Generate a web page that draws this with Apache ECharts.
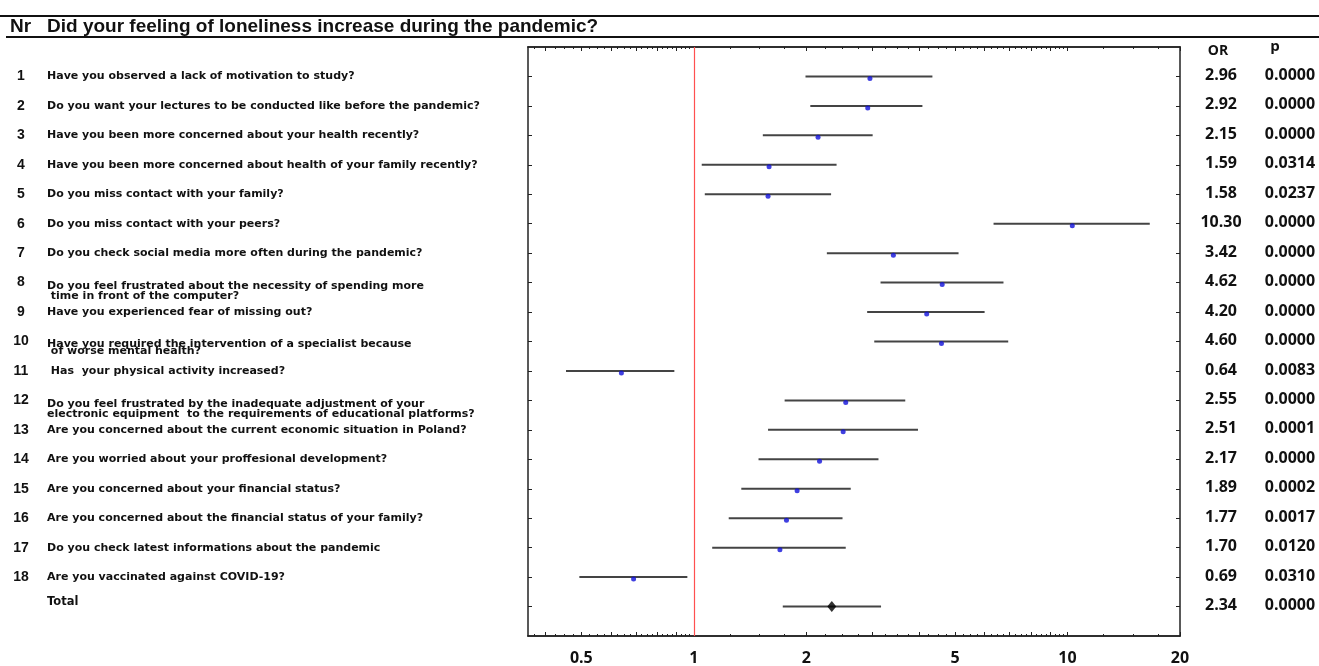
<!DOCTYPE html>
<html><head><meta charset="utf-8">
<script src="https://cdn.jsdelivr.net/npm/echarts@6/dist/echarts.min.js"></script>
<style>html,body{margin:0;padding:0;background:#fff}#c{width:1319px;height:666px}</style>
</head><body><div id="c"></div>
<script>
const titleNr = 'Nr';
const titleText = 'Did your feeling of loneliness increase during the pandemic?';
const rowNumbers = ['1','2','3','4','5','6','7','8','9','10','11','12','13','14','15','16','17','18',''];
const questions = [
  'Have you observed a lack of motivation to study?',
  'Do you want your lectures to be conducted like before the pandemic?',
  'Have you been more concerned about your health recently?',
  'Have you been more concerned about health of your family recently?',
  'Do you miss contact with your family?',
  'Do you miss contact with your peers?',
  'Do you check social media more often during the pandemic?',
  'Do you feel frustrated about the necessity of spending more\n time in front of the computer?',
  'Have you experienced fear of missing out?',
  'Have you required the intervention of a specialist because\n of worse mental health?',
  ' Has  your physical activity increased?',
  'Do you feel frustrated by the inadequate adjustment of your\nelectronic equipment  to the requirements of educational platforms?',
  'Are you concerned about the current economic situation in Poland?',
  'Are you worried about your proffesional development?',
  'Are you concerned about your financial status?',
  'Are you concerned about the financial status of your family?',
  'Do you check latest informations about the pandemic',
  'Are you vaccinated against COVID-19?',
  'Total'
];
const orValues = [2.96, 2.92, 2.15, 1.59, 1.58, 10.30, 3.42, 4.62, 4.20, 4.60, 0.64, 2.55, 2.51, 2.17, 1.89, 1.77, 1.70, 0.69, 2.34];
const ciLower  = [1.99, 2.05, 1.53, 1.05, 1.07, 6.34, 2.27, 3.16, 2.91, 3.04, 0.455, 1.75, 1.58, 1.49, 1.34, 1.24, 1.12, 0.494, 1.73];
const ciUpper  = [4.35, 4.09, 3.01, 2.41, 2.33, 16.6, 5.11, 6.74, 6.00, 6.94, 0.887, 3.68, 3.98, 3.12, 2.63, 2.50, 2.55, 0.961, 3.17];
const pValues  = ['0.0000','0.0000','0.0000','0.0314','0.0237','0.0000','0.0000','0.0000','0.0000','0.0000','0.0083','0.0000','0.0001','0.0000','0.0002','0.0017','0.0120','0.0310','0.0000'];
const xTickLabels = [0.5, 1, 2, 5, 10, 20];
const xMin = 0.36, xMax = 20;

const L = Math.log10;
const nRows = orValues.length;
const rowPos = orValues.map((_, i) => i + 1);

// tick positions on the log scale
const majorTicks = [], minorTicks = [];
for (let k = 4; k <= 9; k++) majorTicks.push(L(k / 10));
for (let k = 1; k <= 10; k++) majorTicks.push(L(k));
majorTicks.push(L(20));
for (let v = 0.375; v < 1; v += 0.025) minorTicks.push(L(v));
for (let v = 1; v < 10; v += 0.25) minorTicks.push(L(v));
for (let v = 10; v <= 20.001; v += 2.5) minorTicks.push(L(v));

const xBase = { type: 'value', min: L(xMin), max: L(xMax), splitLine: { show: false } };
function xAx(pos, ticks, len, labels) {
  return Object.assign({}, xBase, {
    position: pos,
    axisLine: { show: true, onZero: false, lineStyle: { color: '#222', width: 1.5 } },
    axisTick: { show: true, inside: true, length: len, customValues: ticks, lineStyle: { color: '#222', width: 1 } },
    axisLabel: labels ? {
      show: true, customValues: xTickLabels.map(L), margin: 14,
      fontFamily: 'Open Sans', fontWeight: 'bold', fontSize: 16, color: '#111',
      formatter: v => { const r = Math.pow(10, v); return r < 1 ? r.toFixed(1) : String(Math.round(r)); }
    } : { show: false }
  });
}
function yAx(pos) {
  return {
    type: 'value', min: 0, max: 20, inverse: true, position: pos,
    splitLine: { show: false },
    axisLine: { show: true, onZero: false, lineStyle: { color: '#222', width: 1.5 } },
    axisTick: { show: true, inside: true, length: 4, customValues: rowPos, lineStyle: { color: '#222' } },
    axisLabel: { show: false }
  };
}

const chart = echarts.init(document.getElementById('c'), null, { renderer: 'canvas' });
chart.setOption({
  animation: false,
  backgroundColor: '#fff',
  grid: { left: 528, right: 139, top: 47, bottom: 28, show: false },
  xAxis: [xAx('bottom', majorTicks, 4, true), xAx('bottom', minorTicks, 2, false),
          xAx('top', majorTicks, 4, false), xAx('top', minorTicks, 2, false)],
  yAxis: [yAx('left'), yAx('right')],
  series: [
    {
      type: 'custom', xAxisIndex: 0, yAxisIndex: 0,
      data: orValues.map((_, i) => [L(ciLower[i]), L(ciUpper[i]), rowPos[i]]),
      renderItem: (params, api) => {
        const p1 = api.coord([api.value(0), api.value(2)]);
        const p2 = api.coord([api.value(1), api.value(2)]);
        return { type: 'line', shape: { x1: p1[0], y1: p1[1], x2: p2[0], y2: p2[1] },
                 style: { stroke: '#444', lineWidth: 2 } };
      },
      markLine: {
        silent: true, symbol: 'none', label: { show: false },
        lineStyle: { color: '#ff5050', width: 1.2, type: 'solid' },
        data: [{ xAxis: L(1) }]
      }
    },
    {
      type: 'scatter', xAxisIndex: 0, yAxisIndex: 0,
      symbol: 'circle', symbolSize: 5, symbolOffset: [0, 2],
      itemStyle: { color: '#1010d8' },
      data: orValues.slice(0, nRows - 1).map((v, i) => [L(v), rowPos[i]])
    },
    {
      type: 'scatter', xAxisIndex: 0, yAxisIndex: 0,
      symbol: 'diamond', symbolSize: [9, 11],
      itemStyle: { color: '#000' },
      data: [[L(orValues[nRows - 1]), rowPos[nRows - 1]]]
    }
  ]
});

const yOf = v => chart.convertToPixel({ yAxisIndex: 0 }, v);
const g = [];
g.push({ type: 'line', shape: { x1: 0, y1: 16, x2: 1319, y2: 16 }, style: { stroke: '#111', lineWidth: 2 } });
g.push({ type: 'line', shape: { x1: 6, y1: 37, x2: 1319, y2: 37 }, style: { stroke: '#111', lineWidth: 2 } });
g.push({ type: 'text', x: 10, y: 27, style: { text: titleNr, font: 'bold 19px "Liberation Sans"', fill: '#111', verticalAlign: 'middle' } });
g.push({ type: 'text', x: 47, y: 27, style: { text: titleText, font: 'bold 19px "Liberation Sans"', fill: '#111', verticalAlign: 'middle' } });
g.push({ type: 'text', x: 1218, y: 51, style: { text: 'OR', font: 'bold 14px "Open Sans"', fill: '#111', align: 'center', verticalAlign: 'middle' } });
g.push({ type: 'text', x: 1275, y: 47, style: { text: 'p', font: 'bold 15px "Open Sans"', fill: '#111', align: 'center', verticalAlign: 'middle' } });
for (let i = 0; i < nRows; i++) {
  const y = yOf(rowPos[i]);
  const twoLine = questions[i].indexOf('\n') >= 0;
  const lh = rowNumbers[i] === '10' ? 7 : 10;
  g.push({ type: 'text', x: 21, y: y, style: { text: rowNumbers[i], font: 'bold 14px "Liberation Sans"', fill: '#111', align: 'center', verticalAlign: 'middle' } });
  g.push({ type: 'text', x: 47, y: twoLine ? y - 1 : (i === nRows - 1 ? y - 5 : y),
           style: { text: questions[i], font: (i === nRows - 1 ? 'bold 11.5px' : 'bold 11px') + ' "DejaVu Sans"', fill: '#111', lineHeight: lh,
                    align: 'left', verticalAlign: twoLine ? 'top' : 'middle' } });
  g.push({ type: 'text', x: 1221, y: y - 1, style: { text: orValues[i].toFixed(2), font: 'bold 16px "Open Sans"', fill: '#111', align: 'center', verticalAlign: 'middle' } });
  g.push({ type: 'text', x: 1290, y: y - 1, style: { text: pValues[i], font: 'bold 16px "Open Sans"', fill: '#111', align: 'center', verticalAlign: 'middle' } });
}
chart.setOption({ graphic: g });
</script></body></html>
